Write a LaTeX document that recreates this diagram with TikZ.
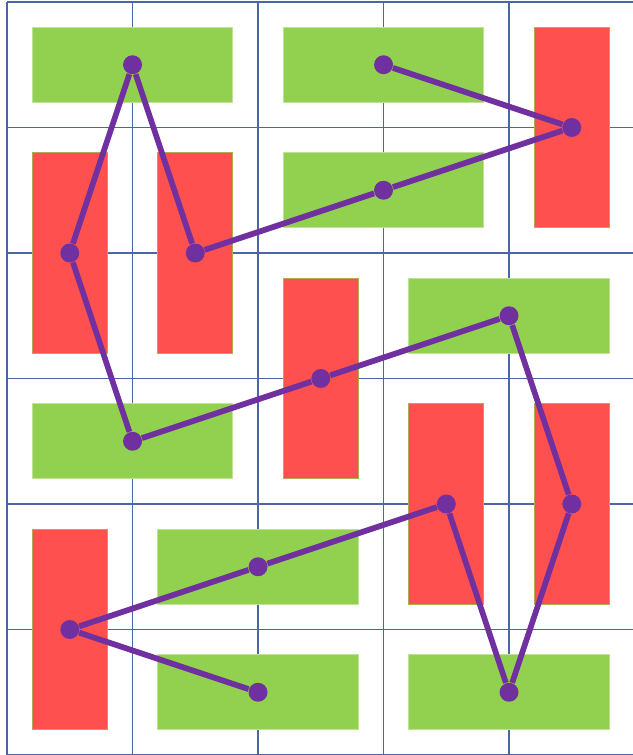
\documentclass[tikz,border=0pt]{standalone}
\usetikzlibrary{positioning}
\definecolor{leaf}{HTML}{92D050}
\definecolor{brick}{HTML}{FF5050}
\definecolor{plum}{HTML}{7030A0}
\definecolor{gridblue}{HTML}{4A66A8}

\begin{document}
\begin{tikzpicture}[x=2cm, y=-2cm, gridline/.style={draw=gridblue, line width=0.6pt}, wide/.style={rectangle, fill=leaf, draw=leaf!60!white, line width=0.4pt, minimum width=3.2cm, minimum height=1.2cm, inner sep=0pt, outer sep=0pt}, tall/.style={wide, fill=brick, draw=leaf!70!brick, minimum width=1.2cm, minimum height=3.2cm}, dot/.style={circle, fill=plum, minimum size=8.6pt, inner sep=0pt}, tour/.style={draw=plum, line width=2.6pt}]
\useasboundingbox (-0.056,-0.016) rectangle (4.985,6.0);
\foreach \c in {0,...,4} \draw[gridline] (\c,0) -- (\c,6);
\foreach \r in {0,...,6} \draw[gridline] (0,\r) -- (5,\r);
% horizontal blocks
\node[wide] (g1) at (1,0.5) {}; \node[wide] (g2) at (3,0.5) {};
\node[wide] (g3) at (3,1.5) {}; \node[wide] (g4) at (4,2.5) {};
\node[wide] (g5) at (1,3.5) {}; \node[wide] (g6) at (2,4.5) {};
\node[wide] (g7) at (2,5.5) {}; \node[wide] (g8) at (4,5.5) {};
% vertical blocks
\node[tall] (r1) at (4.5,1) {}; \node[tall] (r2) at (0.5,2) {};
\node[tall] (r3) at (1.5,2) {}; \node[tall] (r4) at (2.5,3) {};
\node[tall] (r5) at (3.5,4) {}; \node[tall] (r6) at (4.5,4) {};
\node[tall] (r7) at (0.5,5) {};
% tour
\foreach \b [count=\i] in {g2,r1,g3,r3,g1,r2,g5,r4,g4,r6,g8,r5,g6,r7,g7} \node[dot] (d\i) at (\b) {};
\draw[tour] (d1) -- (d2) -- (d3) -- (d4) -- (d5) -- (d6) -- (d7) -- (d8) -- (d9) -- (d10) -- (d11) -- (d12) -- (d13) -- (d14) -- (d15);
\end{tikzpicture}
\end{document}
